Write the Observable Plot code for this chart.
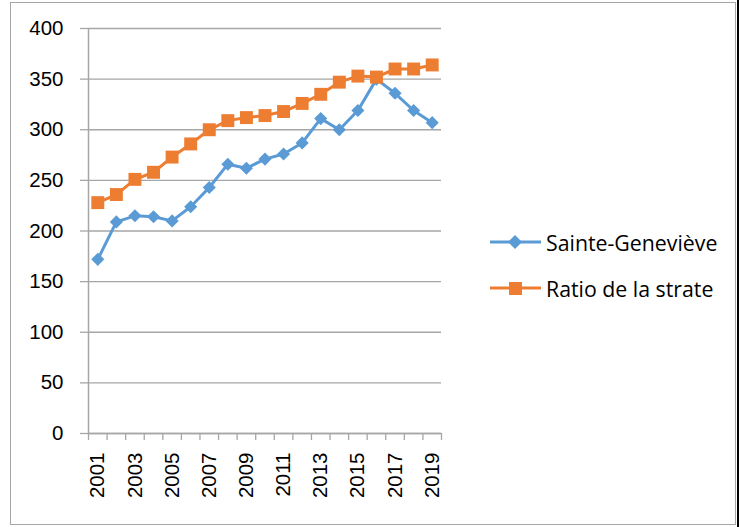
<!DOCTYPE html>
<html><head><meta charset="utf-8">
<script src="https://cdn.jsdelivr.net/npm/d3@7"></script>
<script src="https://cdn.jsdelivr.net/npm/@observablehq/plot@0.6"></script>
<style>
body{margin:0;background:#fff;}
#wrap{position:relative;width:739px;height:527px;overflow:hidden;font-family:"Liberation Sans",Arial,sans-serif;}
#frame{position:absolute;left:10px;top:2px;width:724px;height:521px;border:1.5px solid #a6a6a6;pointer-events:none;}
#edge{position:absolute;left:737px;top:0;width:2px;height:527px;background:#000;}
#legend{position:absolute;left:490px;top:219px;font-family:"Open Sans","Liberation Sans",sans-serif;font-size:21.3px;color:#000;}
.item{display:flex;align-items:center;height:46px;}
.item svg{margin-right:5px;}
</style></head>
<body><div id="wrap"><div id="frame"></div><div id="edge"></div><div id="legend"></div></div>
<script>
const years = [2001,2002,2003,2004,2005,2006,2007,2008,2009,2010,2011,2012,2013,2014,2015,2016,2017,2018,2019];
const sainteGenevieve = [172,209,215,214,210,224,243,266,262,271,276,287,311,300,319,350,336,319,307];
const ratioStrate = [228,236,251,258,273,286,300,309,312,314,318,326,335,347,353,352,360,360,364];
const seriesNames = ["Sainte-Geneviève","Ratio de la strate"];
const seriesColors = ["#5B9BD5","#ED7D31"];
const yTicks = [0,50,100,150,200,250,300,350,400];
const xLabelYears = years.filter((y,i)=>i%2===0);

const blue = years.map((yr,i)=>({year:yr,value:sainteGenevieve[i]}));
const orange = years.map((yr,i)=>({year:yr,value:ratioStrate[i]}));
const bounds = years.map(y=>y-0.5).concat([years[years.length-1]+0.5]);
const grid = "#a6a6a6";

const chart = Plot.plot({
  width:739, height:527,
  marginLeft:88, marginRight:298, marginTop:28, marginBottom:94,
  style:{fontFamily:'"Liberation Sans",Arial,sans-serif', fontSize:"20.5px", color:"#000", background:"transparent", overflow:"visible"},
  x:{type:"linear", domain:[bounds[0], bounds[bounds.length-1]], label:null},
  y:{domain:[0,400], label:null},
  marks:[
    Plot.gridY(yTicks,{stroke:grid, strokeOpacity:1, strokeWidth:1.3}),
    Plot.axisY(yTicks,{tickSize:8, tickPadding:17, stroke:grid, strokeWidth:1.3, fill:"#000", label:null, fontSize:20.5}),
    Plot.axisX(bounds,{tickSize:7, tickFormat:()=>"", stroke:grid, strokeWidth:1.3, label:null}),
    Plot.axisX(xLabelYears,{tickSize:0, tickPadding:19, tickRotate:-90, tickFormat:d=>String(d), fill:"#000", label:null, fontSize:20.5}),
    Plot.ruleX([bounds[0]],{stroke:grid, strokeWidth:1.5}),
    Plot.ruleY([0],{stroke:grid, strokeWidth:1.5}),
    Plot.line(blue,{x:"year", y:"value", stroke:seriesColors[0], strokeWidth:3}),
    Plot.dot(blue,{x:"year", y:"value", symbol:"diamond2", r:5.9, fill:seriesColors[0], stroke:null}),
    Plot.line(orange,{x:"year", y:"value", stroke:seriesColors[1], strokeWidth:3}),
    Plot.dot(orange,{x:"year", y:"value", symbol:"square", r:7.3, fill:seriesColors[1], stroke:null})
  ]
});
document.getElementById("wrap").prepend(chart);

const legend = document.getElementById("legend");
seriesNames.forEach((name,i)=>{
  const item = document.createElement("div");
  item.className = "item";
  const marker = i===0
    ? `<path d="M25,3 L32,10 L25,17 L18,10 Z" fill="${seriesColors[i]}"/>`
    : `<rect x="19" y="4" width="13" height="13" fill="${seriesColors[i]}"/>`;
  item.innerHTML = `<svg width="51" height="20"><line x1="0" x2="51" y1="10" y2="10" stroke="${seriesColors[i]}" stroke-width="3"/>${marker}</svg><span>${name}</span>`;
  legend.appendChild(item);
});
</script>
</body></html>
